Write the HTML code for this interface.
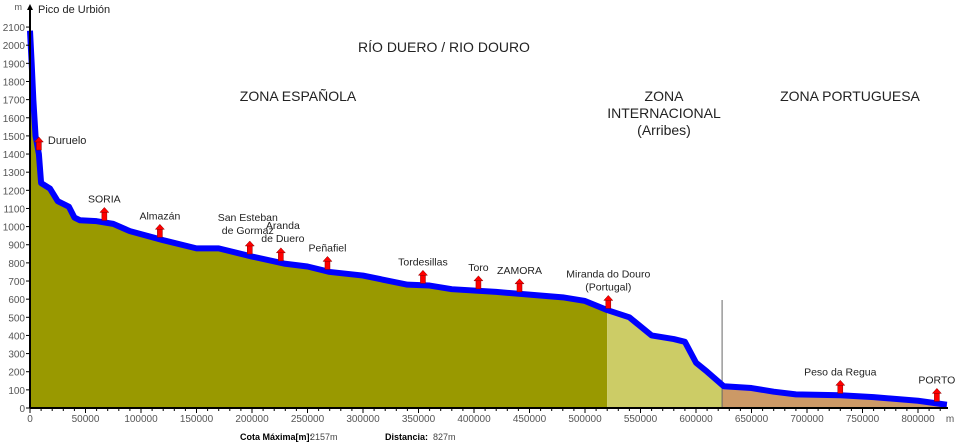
<!DOCTYPE html>
<html><head><meta charset="utf-8"><style>
body{margin:0;background:#fff;}
svg{display:block;font-family:"Liberation Sans",Arial,sans-serif;}
</style></head><body>
<svg id="c" width="960" height="445"></svg>
<script>
const dist=[0,1500,3000,5000,8000,10000,18000,25000,35000,40000,45000,60000,75000,90000,120000,150000,170000,200000,230000,250000,270000,300000,340000,360000,380000,420000,450000,480000,500000,520000,540000,560000,580000,590000,600000,610000,625000,650000,670000,690000,730000,760000,800000,826000];
const elev=[2080,1900,1700,1500,1400,1240,1210,1140,1110,1050,1035,1030,1015,975,925,880,880,835,795,780,750,730,680,675,655,640,625,610,590,540,500,400,380,365,250,200,120,110,90,75,70,60,40,18];
const zoneEnds=[520000,623500,826000];
const zoneColors=["#999900","#cccc66","#cc9966"];
const zoneNames=["zone-spanish-fill","zone-international-fill","zone-portuguese-fill"];
const towns=["Duruelo","SORIA","Almazán","San Esteban|de Gormaz","Aranda|de Duero","Peñafiel","Tordesillas","Toro","ZAMORA","Miranda do Douro|(Portugal)","Peso da Regua","PORTO"];
const townDist=[8000,67000,117000,198000,226000,268000,354000,404000,441000,521000,730000,817000];
const yTicks=[0,100,200,300,400,500,600,700,800,900,1000,1100,1200,1300,1400,1500,1600,1700,1800,1900,2000,2100];
const xTicks=[0,50000,100000,150000,200000,250000,300000,350000,400000,450000,500000,550000,600000,650000,700000,750000,800000];
const NS="http://www.w3.org/2000/svg";
const svg=document.getElementById('c');
const X=d=>30+d*0.00111;
const Y=e=>408-e*0.1814;
function el(t,a,p){const e=document.createElementNS(NS,t);for(const k in a)e.setAttribute(k,a[k]);(p||svg).appendChild(e);return e;}
function elevAt(d){for(let i=1;i<dist.length;i++){if(d<=dist[i]){const t=(d-dist[i-1])/(dist[i]-dist[i-1]);return elev[i-1]+t*(elev[i]-elev[i-1]);}}return elev[elev.length-1];}
let start=0;
zoneEnds.forEach((end,z)=>{
  let pts=[[X(start),Y(0)],[X(start),Y(elevAt(start))]];
  for(let i=0;i<dist.length;i++){if(dist[i]>start&&dist[i]<end)pts.push([X(dist[i]),Y(elev[i])]);}
  pts.push([X(end),Y(elevAt(end))],[X(end),Y(0)]);
  const p=el('polygon',{points:pts.map(q=>q.join(',')).join(' '),fill:zoneColors[z]});
  
  
  start=end;
});
const vl=el('line',{x1:X(623500),y1:300,x2:X(623500),y2:408,stroke:'#666','stroke-width':1});


const pl=el('polyline',{points:dist.map((d,i)=>X(d)+','+Y(elev[i])).join(' '),fill:'none',stroke:'#0000ff','stroke-width':6,'stroke-linejoin':'round'});


const ya=el('line',{x1:30,y1:408,x2:30,y2:6,stroke:'#000','stroke-width':2});


el('polygon',{points:'27,10 33,10 30,4',fill:'#000'});
const xa=el('line',{x1:30,y1:408,x2:948,y2:408,stroke:'#000','stroke-width':2});


yTicks.forEach(v=>{
  el('line',{x1:26,y1:Y(v),x2:30,y2:Y(v),stroke:'#000'});
  const t=el('text',{x:25,y:Y(v)+4,'font-size':10,fill:'#555','text-anchor':'end'});t.textContent=v;
  
  
});
for(let d=0;d<=820000;d+=10000){el('line',{x1:X(d),y1:408,x2:X(d),y2:d%50000?411:413,stroke:'#000'});}
xTicks.forEach(v=>{
  const t=el('text',{x:X(v),y:422,'font-size':10,fill:'#555','text-anchor':'middle'});t.textContent=v;
  
  
});
function txt(x,y,s,size,anchor,name,fill){const t=el('text',{x:x,y:y,'font-size':size,fill:fill||'#222','text-anchor':anchor||'middle'});t.textContent=s;return t;}
txt(22,10,'m',9,'end','y-unit','#555');
txt(950,422,'m',10,'middle','x-unit','#555');
txt(38,13,'Pico de Urbión',11,'start','source-label');
txt(444,52,'RÍO DUERO / RIO DOURO',14,'middle','chart-title');
txt(298,101,'ZONA ESPAÑOLA',14,'middle','zone-spanish-label');
txt(664,101,'ZONA',14,'middle','zone-international-label');
txt(664,118,'INTERNACIONAL',14,'middle','zone-international-label');
txt(664,135,'(Arribes)',14,'middle','zone-international-label');
txt(850,101,'ZONA PORTUGUESA',14,'middle','zone-portuguese-label');
const b1=txt(240,440,'Cota Máxima[m]: ',9,'start','max-elevation-label','#000');b1.setAttribute('font-weight','bold');
txt(310,440,'2157m',9,'start','max-elevation-value','#444');
const b2=txt(385,440,'Distancia: ',9,'start','distance-label','#000');b2.setAttribute('font-weight','bold');
txt(433,440,'827m',9,'start','distance-value','#444');
const labelShift={3:[-2,-2],4:[2,-1]};
towns.forEach((n,i)=>{
  const x=X(townDist[i]);
  const base=(i===0)?150:Y(elevAt(townDist[i]))-2;
  const g=el('g',{});
  
  
  el('rect',{x:x-2.5,y:base-9,width:5,height:9,fill:'#ff0000',stroke:'#800','stroke-width':0.5},g);
  el('polygon',{points:`${x-4.5},${base-8} ${x+4.5},${base-8} ${x},${base-13}`,fill:'#ff0000',stroke:'#800','stroke-width':0.5},g);
  const lines=n.split('|');
  if(i===0){txt(x+9,base-6,lines[0],11,'start','town-label');return;}
  const sh=labelShift[i]||[0,0];
  const top=base-18-(lines.length-1)*13+sh[1];
  lines.forEach((l,k)=>txt(x+sh[0],top+k*13,l,10.5,'middle','town-label'));
});
</script>
</body></html>
